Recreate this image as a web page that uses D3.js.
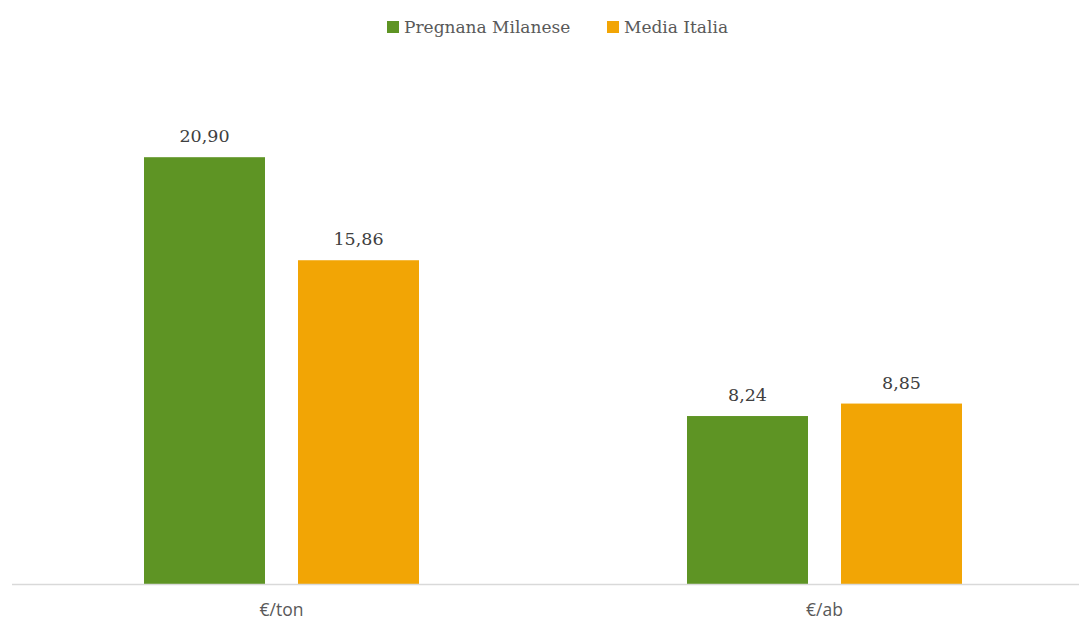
<!DOCTYPE html>
<html>
<head>
<meta charset="utf-8">
<script src="https://d3js.org/d3.v7.min.js"></script>
<style>
  html, body { margin: 0; padding: 0; background: #fff; }
  svg { display: block; }
</style>
</head>
<body>
<svg id="chart" width="1079" height="621"></svg>
<script>
// Costs per tonne and per inhabitant
const categories = ["€/ton", "€/ab"];
const seriesNames = ["Pregnana Milanese", "Media Italia"];
const pregnanaValues = [20.90, 8.24];
const italiaValues = [15.86, 8.85];
const seriesColors = ["#5E9424", "#F2A505"];

const W = 1079, H = 621;
const baseY = 584.5;
const svg = d3.select("#chart");

const x0 = d3.scaleBand().domain(categories).range([10, 1096]).paddingInner(0).paddingOuter(0);
const x1 = d3.scaleBand().domain(seriesNames).range([-137.5, 137.5]).paddingInner(33 / 154).paddingOuter(0);
const y = d3.scaleLinear().domain([0, 24]).range([baseY, baseY - 24 * 20.445]);

const rows = categories.map((c, i) => ({
  cat: c,
  vals: [
    { name: seriesNames[0], v: pregnanaValues[i], color: seriesColors[0] },
    { name: seriesNames[1], v: italiaValues[i], color: seriesColors[1] }
  ]
}));

const fmt = v => d3.format(".2f")(v).replace(".", ",");

const groups = svg.selectAll("g.grp").data(rows).join("g")
  .attr("class", "grp")
  .attr("transform", d => `translate(${x0(d.cat) + x0.bandwidth() / 2},0)`);

groups.selectAll("rect").data(d => d.vals).join("rect")
  .attr("x", d => x1(d.name))
  .attr("width", x1.bandwidth())
  .attr("y", d => y(d.v))
  .attr("height", d => y(0) - y(d.v))
  .attr("fill", d => d.color);

groups.selectAll("text.val").data(d => d.vals).join("text")
  .attr("class", "val")
  .attr("x", d => x1(d.name) + x1.bandwidth() / 2)
  .attr("y", d => y(d.v) - 15)
  .attr("text-anchor", "middle")
  .attr("font-family", "'DejaVu Serif', serif")
  .attr("font-size", 17.5)
  .attr("fill", "#404040")
  .text(d => fmt(d.v));

// baseline axis
svg.append("line")
  .attr("x1", 12).attr("x2", W)
  .attr("y1", baseY).attr("y2", baseY)
  .attr("stroke", "#D9D9D9").attr("stroke-width", 1.5);

const xAxis = d3.axisBottom(x0).tickSize(0).tickPadding(0);
const axisG = svg.append("g").attr("transform", `translate(0,${baseY})`).call(xAxis);
axisG.select(".domain").remove();
axisG.selectAll("text")
  .attr("y", 31)
  .attr("dy", null)
  .attr("font-family", "'Open Sans', sans-serif")
  .attr("font-size", 17.5)
  .attr("fill", "#595959");

// legend
const legendItems = [
  { name: seriesNames[0], color: seriesColors[0], x: 387 },
  { name: seriesNames[1], color: seriesColors[1], x: 607 }
];
const lg = svg.selectAll("g.lg").data(legendItems).join("g")
  .attr("class", "lg")
  .attr("transform", d => `translate(${d.x},0)`);
lg.append("rect").attr("x", 0).attr("y", 21).attr("width", 12).attr("height", 12).attr("fill", d => d.color);
lg.append("text")
  .attr("x", 17).attr("y", 33)
  .attr("font-family", "'DejaVu Serif', serif")
  .attr("font-size", 17)
  .attr("fill", "#595959")
  .text(d => d.name);
</script>
</body>
</html>
